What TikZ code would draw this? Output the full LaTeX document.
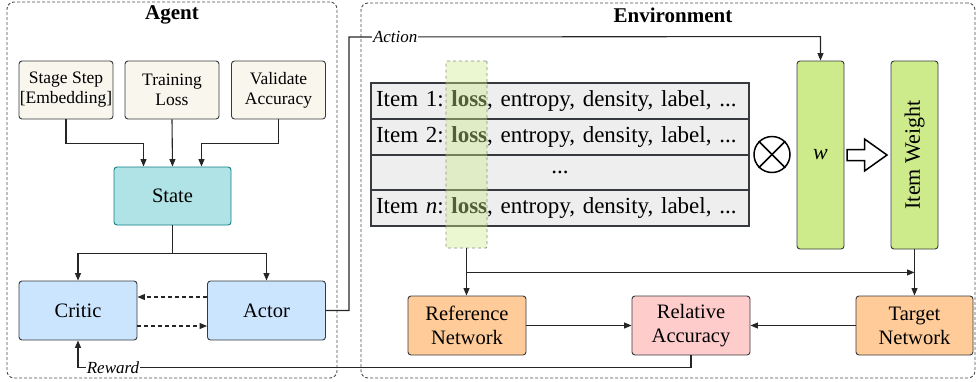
\documentclass[tikz,border=0pt]{standalone}
\usepackage{fontspec}
\usepackage{graphicx}
\setmainfont{Liberation Serif}
\usetikzlibrary{arrows.meta,calc}
\definecolor{strk}{HTML}{36393D}
\definecolor{cream}{HTML}{F9F7ED}
\definecolor{teal}{HTML}{B0E3E6}
\definecolor{tealstrk}{HTML}{0E8088}
\definecolor{lblue}{HTML}{CCE5FF}
\definecolor{orng}{HTML}{FFCC99}
\definecolor{pnk}{HTML}{FFCCCC}
\definecolor{lgreen}{HTML}{CDEB8B}
\definecolor{rowgray}{HTML}{EEEEEE}
\frenchspacing
\begin{document}
\begin{tikzpicture}[x=1pt,y=-1pt,
  box/.style={draw=strk, rounded corners=3pt, line width=0.9pt, align=center, inner sep=0pt},
  inbox/.style={box, fill=cream, minimum width=94pt, minimum height=58pt, font=\fontsize{17.5}{20}\selectfont},
  netbox/.style={box, minimum width=118pt, minimum height=59pt, font=\fontsize{20.5}{24}\selectfont},
  tallbox/.style={box, fill=lgreen, minimum width=47pt, minimum height=188pt, font=\fontsize{22}{26}\selectfont},
  outer/.style={draw=strk!90, dash pattern=on 3pt off 2pt, rounded corners=7pt, line width=0.9pt},
  ttl/.style={font=\fontsize{21}{24}\selectfont\bfseries, inner sep=0pt},
  lbl/.style={fill=white, inner sep=1pt, font=\fontsize{17}{20}\selectfont\itshape},
  rowbox/.style={draw=strk, line width=1.8pt, fill=rowgray, minimum height=35.75pt, text width=368pt, inner xsep=5pt, inner ysep=0pt, font=\fontsize{23}{26}\selectfont},
  arr/.style={line width=1.1pt, draw=black!85, -{Triangle[length=7.5pt,width=6pt]}},
  dsh/.style={dash pattern=on 4pt off 3pt}
]
\useasboundingbox (0,0) rectangle (977,381);

% outer containers
\node[outer, minimum width=330pt, minimum height=376pt] (agent) at (172,190) {};
\node[outer, minimum width=614pt, minimum height=375pt] (env) at (668,190.5) {};
\node[ttl] (agentT) at (172,15) {Agent};
\node[ttl] (envT) at (673,15) {Environment};

% agent nodes
\node[inbox] (ss) at (66,90) {Stage Step\\{[Embedding]}};
\node[inbox] (tl) at (172,90) {Training\\Loss};
\node[inbox] (va) at (278.5,90) {Validate\\Accuracy};
\node[netbox, fill=teal, draw=tealstrk, minimum width=117pt, minimum height=58pt] (state) at (172.5,196) {State};
\node[netbox, fill=lblue] (critic) at (78,310.5) {Critic};
\node[netbox, fill=lblue] (actor) at (266.5,310.5) {Actor};

\coordinate (sIn1) at ([xshift=-29pt]state.north);
\coordinate (sIn3) at ([xshift=29pt]state.north);
\draw[arr] (ss.south) -- ++(0,24) -| (sIn1);
\draw[arr] (tl.south) -- (state.north);
\draw[arr] (va.south) -- ++(0,24) -| (sIn3);
\draw[arr] (state.south) -- ++(0,28) -| (critic.north);
\draw[arr] (state.south) ++(0,28) -| (actor.north);
\draw[arr, dsh] ([yshift=13.5pt]actor.west) -- ([yshift=13.5pt]critic.east);
\draw[arr, dsh] ([yshift=-15.5pt]critic.east) -- ([yshift=-15.5pt]actor.west);

% environment: table
\node[rowbox, align=left] (r1) at (560,101) {Item 1: \textbf{loss}, entropy, density, label, ...};
\node[rowbox, align=left] (r2) at (560,136.75) {Item 2: \textbf{loss}, entropy, density, label, ...};
\node[rowbox, align=center] (r3) at (560,172.5) {...};
\node[rowbox, align=left] (r4) at (560,208.25) {Item \textit{n}: \textbf{loss}, entropy, density, label, ...};
\node[draw=black!45, dashed, line width=0.8pt, fill=lgreen, fill opacity=0.4, minimum width=41pt, minimum height=187pt, rounded corners=1pt] (lossCol) at (466.5,154.5) {};

% otimes
\node[circle, draw=black, line width=1.5pt, minimum size=36pt, inner sep=0pt] (ot) at (772,154.5) {};
\draw[line width=1.5pt] (ot.north east) -- (ot.south west);
\draw[line width=1.5pt] (ot.north west) -- (ot.south east);

% w and item weight
\node[tallbox] (w) at (820.5,155) {\textit{w}};
\node[tallbox] (iw) at (914.5,155) {\rotatebox{90}{Item Weight}};
\draw[line width=1.5pt, fill=white, line join=miter] (847,149.5) -- (864.5,149.5) -- (864.5,139) -- (887,155) -- (864.5,171) -- (864.5,160.5) -- (847,160.5) -- cycle;

% networks
\node[netbox, fill=orng] (ref) at (467,325.5) {Reference\\Network};
\node[netbox, fill=pnk] (rel) at (691,325.5) {Relative\\Accuracy};
\node[netbox, fill=orng, minimum width=117pt] (tgt) at (914.5,325.5) {Target\\Network};

\coordinate (brR) at ($(iw.south)+(0,23)$);
\draw[arr] (lossCol.south) -- (lossCol.south |- ref.north);
\draw[arr] (lossCol.south |- brR) -- (brR);
\draw[arr] (iw.south) -- (tgt.north);
\draw[arr] (ref.east) -- (rel.west);
\draw[arr] (tgt.west) -- (rel.east);

% action and reward
\coordinate (actTop) at (349,37);
\draw[arr] (actor.east) -| (actTop) -- node[lbl, pos=0.098] (actL) {Action} ($(w.north)+(0,-24)$) -- (w.north);
\draw[arr] (rel.south) -- ++(0,12) -| node[lbl, pos=0.4715] (rewL) {Reward} (critic.south);
\end{tikzpicture}
\end{document}
